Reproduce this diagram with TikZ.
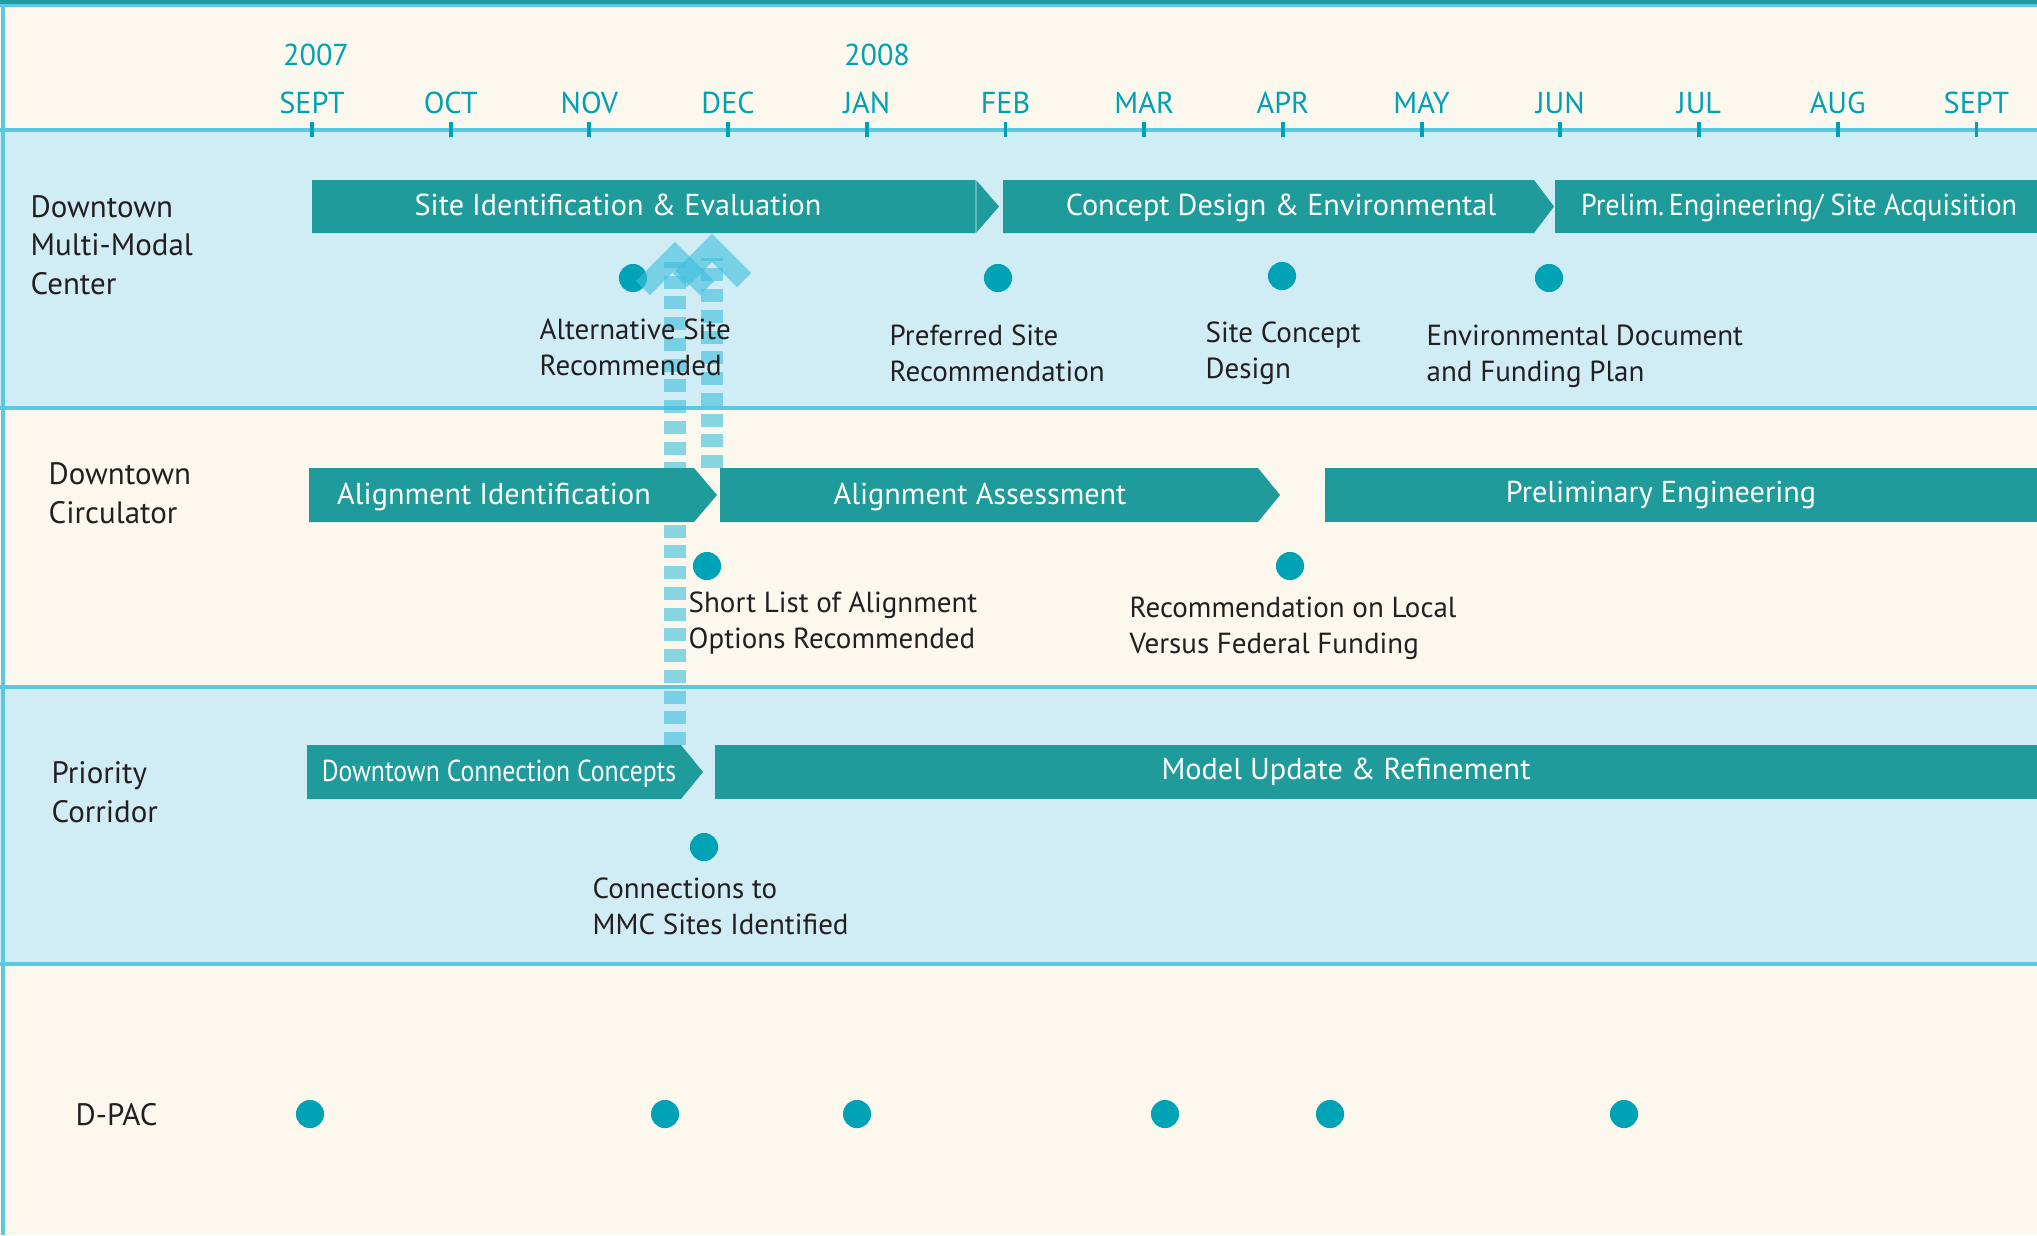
\documentclass[tikz,border=0pt]{standalone}
\usepackage{fontspec}
\setmainfont{PT Sans}
\usetikzlibrary{positioning}

\definecolor{barteal}{RGB}{30,155,154}
\definecolor{dotteal}{RGB}{0,163,181}
\definecolor{monthteal}{RGB}{0,160,181}
\definecolor{bandblue}{RGB}{208,236,245}
\definecolor{bandcream}{RGB}{252,248,237}
\definecolor{edgeblue}{RGB}{91,200,226}
\definecolor{flowblue}{RGB}{60,190,220}
\definecolor{labelgray}{RGB}{35,31,32}

\tikzset{
  phase/.style={fill=barteal},
  phasetext/.style={text=white, anchor=base, inner sep=0pt, font=\fontsize{8.6}{11}\selectfont},
  month/.style={text=monthteal, anchor=base, inner sep=0pt, font=\fontsize{8.6}{11}\selectfont},
  monthtick/.style={draw=monthteal, line width=1.1pt},
  milestone/.style={circle, fill=dotteal, minimum size=8pt, inner sep=0pt},
  note/.style={text=labelgray, anchor=west, align=left, inner sep=0pt, font=\fontsize{8.25}{10.3}\selectfont},
  rowname/.style={text=labelgray, anchor=west, align=left, inner sep=0pt, font=\fontsize{8.8}{11}\selectfont},
  divider/.style={draw=edgeblue, line width=0.9pt},
  flow/.style={draw=flowblue, draw opacity=0.6, line width=6pt, dash pattern=on 3.7pt off 2.2pt},
  flowhead/.style={draw=flowblue, draw opacity=0.6, line width=5.7pt, miter limit=4},
}

\begin{document}
\begin{tikzpicture}[x=0.01cm, y=-0.01cm]
    \useasboundingbox (0,0) rectangle (2037,1235);

    % bands
    \fill[bandcream] (0,0) rectangle (2037,130);
    \fill[bandblue] (0,130) rectangle (2037,408);
    \fill[bandcream] (0,408) rectangle (2037,687);
    \fill[bandblue] (0,687) rectangle (2037,964);
    \fill[bandcream] (0,964) rectangle (2037,1235);
    \fill[barteal] (0,0) rectangle (2037,4);
    \fill[edgeblue] (0,4) rectangle (2037,7);
    \draw[divider] (0,130) -- (2037,130);
    \draw[divider] (0,408) -- (2037,408);
    \draw[divider] (0,687) -- (2037,687);
    \draw[divider] (0,964) -- (2037,964);
    \draw[divider] (3,7) -- (3,1235);

    % months
    \foreach \m [count=\i from 0] in {SEPT,OCT,NOV,DEC,JAN,FEB,MAR,APR,MAY,JUN,JUL,AUG,SEPT} {
        \draw[monthtick] (312+138.7*\i,122) -- ++(0,15);
        \node[month] (m\i) at (312+138.7*\i,113) {\m};
    }
    \node[month] (y2007) at (316,65) {2007};
    \node[month] (y2008) at (877,65) {2008};

    % row names
    \node[rowname] (mmc) at (30,245) {Downtown\\Multi-Modal\\Center};
    \node[rowname] (circ) at (48,493) {Downtown\\Circulator};
    \node[rowname] (corr) at (51,792) {Priority\\Corridor};
    \node[rowname] (dpac) at (75,1115) {D-PAC};

    % links up to the site recommendation
    \coordinate (dcc top) at (675,745);
    \coordinate (alt end) at (675,262);
    \coordinate (assess top) at (712,468);
    \coordinate (site end) at (712,258);
    \draw[flow] (dcc top) -- (alt end);
    \draw[flow] (assess top) -- (site end);

    % Downtown Multi-Modal Center
    \fill[phase] (312,180) -- (976,180) -- (999,206.5) -- (976,233) -- (312,233) -- cycle;
    \draw[white, opacity=0.3, line width=0.4pt] (976,180) -- (976,233);
    \node[phasetext] (siteid) at (618,215.5) {Site Identification \& Evaluation};
    \fill[phase] (1003,180) -- (1534,180) -- (1554,206.5) -- (1534,233) -- (1003,233) -- cycle;
    \node[phasetext] (concept) at (1281,215.5) {Concept Design \& Environmental};
    \fill[phase] (1555,180) rectangle (2037,233);
    \node[phasetext] (prelim) at (1799,215.5) {\scalebox{0.93}[1]{Prelim.\,Engineering/ Site Acquisition}};

    \node[milestone] (altsite) at (633,278) {};
    \node[milestone] (prefsite) at (998,278) {};
    \node[milestone] (siteconc) at (1282,276) {};
    \node[milestone] (envdoc) at (1549,278) {};
    \node[note] (altsite txt) at (539,347) {Alternative Site\\Recommended};
    \node[note] (prefsite txt) at (889,353) {Preferred Site\\Recommendation};
    \node[note] (siteconc txt) at (1205,353) {Site Concept\\Design};
    \node[note] (envdoc txt) at (1426,356) {Environmental Document\\and Funding Plan};

    % Downtown Circulator
    \fill[phase] (309,468) -- (694,468) -- (717,495) -- (694,522) -- (309,522) -- cycle;
    \node[phasetext] (alignid) at (494,504) {Alignment Identification};
    \fill[phase] (720,468) -- (1258,468) -- (1280,495) -- (1258,522) -- (720,522) -- cycle;
    \node[phasetext] (alignass) at (980,504) {Alignment Assessment};
    \fill[phase] (1325,468) rectangle (2037,522);
    \node[phasetext] (prelimeng) at (1661,502) {Preliminary Engineering};

    \node[milestone] (shortlist) at (707,566) {};
    \node[milestone] (funding) at (1290,566) {};
    \node[note] (shortlist txt) at (688,623) {Short List of Alignment\\Options Recommended};
    \node[note] (funding txt) at (1129,628) {Recommendation on Local\\Versus Federal Funding};

    % Priority Corridor
    \fill[phase] (307,745) -- (681,745) -- (703,772) -- (681,799) -- (307,799) -- cycle;
    \node[phasetext] (dcc) at (499,781) {\scalebox{0.85}[1]{Downtown Connection Concepts}};
    \fill[phase] (715,745) rectangle (2037,799);
    \node[phasetext] (model) at (1346,779) {Model Update \& Refinement};

    \node[milestone] (mmcsites) at (704,847) {};
    \node[note] (mmcsites txt) at (592,906) {Connections to\\MMC Sites Identified};

    % arrow heads
    \draw[flowhead] (643,288) -- (675,256) -- (707,288);
    \draw[flowhead] (680,280) -- (712,248) -- (744,280);

    % D-PAC meetings
    \foreach \x [count=\k] in {310,665,857,1165,1330,1624}
        \node[milestone] (meet\k) at (\x,1114) {};
\end{tikzpicture}
\end{document}
